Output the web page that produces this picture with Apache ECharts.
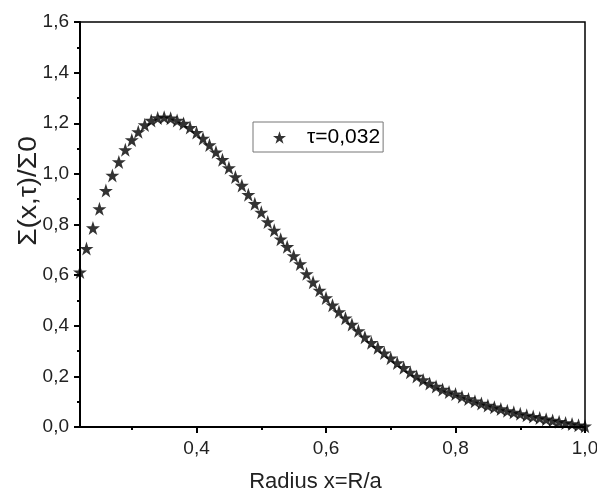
<!DOCTYPE html>
<html>
<head>
<meta charset="utf-8">
<script src="https://cdn.jsdelivr.net/npm/echarts@6/dist/echarts.min.js"></script>
<style>
html,body{margin:0;padding:0;background:#fff;}
#c{width:597px;height:489px;}
</style>
</head>
<body>
<div id="c"></div>
<script>
var radius = [0.22,0.23,0.24,0.25,0.26,0.27,0.28,0.29,0.30,0.31,0.32,0.33,0.34,0.35,0.36,0.37,0.38,0.39,0.40,
  0.41,0.42,0.43,0.44,0.45,0.46,0.47,0.48,0.49,0.50,0.51,0.52,0.53,0.54,0.55,0.56,0.57,0.58,0.59,0.60,
  0.61,0.62,0.63,0.64,0.65,0.66,0.67,0.68,0.69,0.70,0.71,0.72,0.73,0.74,0.75,0.76,0.77,0.78,0.79,0.80,
  0.81,0.82,0.83,0.84,0.85,0.86,0.87,0.88,0.89,0.90,0.91,0.92,0.93,0.94,0.95,0.96,0.97,0.98,0.99,1.00];
var sigma = [0.612,0.705,0.786,0.862,0.934,0.994,1.047,1.095,1.134,1.166,1.193,1.211,1.221,1.224,1.220,1.211,1.199,1.183,1.163,
  1.140,1.114,1.086,1.056,1.024,0.988,0.954,0.918,0.882,0.848,0.810,0.777,0.742,0.712,0.676,0.644,0.605,0.572,0.540,0.510,
  0.481,0.455,0.430,0.405,0.380,0.355,0.333,0.313,0.292,0.272,0.253,0.234,0.216,0.200,0.186,0.172,0.160,0.148,0.138,0.130,
  0.120,0.111,0.102,0.093,0.085,0.078,0.071,0.064,0.058,0.052,0.046,0.041,0.036,0.031,0.026,0.021,0.016,0.012,0.007,0.003];
var seriesName = 'τ=0,032';
var xAxisName = 'Radius x=R/a';
var yAxisName = 'Σ(x,τ)/Σ0';
var xMajorTicks = [0.4, 0.6, 0.8, 1.0];
var xMinorTicks = [0.3, 0.5, 0.7, 0.9];

var star = 'path://M50,0 L61.8,35.3 L98.5,35.3 L68.8,57.1 L79.9,92.7 L50,71 L20.1,92.7 L31.2,57.1 L1.5,35.3 L38.2,35.3 Z';
var font = 'Liberation Sans, Arial, sans-serif';
function fmt(v){ return v.toFixed(1).replace('.', ','); }

var chart = echarts.init(document.getElementById('c'));
chart.setOption({
  animation: false,
  backgroundColor: '#fff',
  grid: {left: 80, right: 12, top: 22, bottom: 62, outerBoundsMode: 'none', containLabel: false,
    show: true, borderColor: '#000', borderWidth: 1.5, backgroundColor: 'transparent'},
  legend: {
    left: 253, top: 122, width: 132,
    data: [{name: seriesName, icon: star}],
    itemWidth: 13, itemHeight: 13,
    padding: [5, 3, 4, 20],
    borderColor: '#777', borderWidth: 1,
    textStyle: {fontFamily: font, fontSize: 21, color: '#000', padding: [0, 0, 0, 16]}
  },
  graphic: [{
    type: 'text',
    x: 29, y: 191,
    rotation: Math.PI / 2,
    scaleX: 1.12,
    style: {text: yAxisName, fontFamily: font, fontSize: 25, fill: '#222', align: 'center', verticalAlign: 'middle'}
  }],
  xAxis: [{
    type: 'value', min: 0.22, max: 1.0,
    name: xAxisName, nameLocation: 'middle', nameGap: 44,
    nameTextStyle: {fontFamily: font, fontSize: 22, color: '#222', padding: [0, 34, 0, 0]},
    axisLine: {show: true, onZero: false, lineStyle: {color: '#000', width: 2}},
    axisTick: {show: true, inside: false, length: 6, customValues: xMajorTicks, lineStyle: {color: '#000', width: 2}},
    axisLabel: {customValues: xMajorTicks, formatter: fmt, fontFamily: font, fontSize: 19, color: '#222', margin: 12},
    splitLine: {show: false}
  }, {
    type: 'value', min: 0.22, max: 1.0, position: 'bottom',
    axisLine: {show: false},
    axisTick: {show: true, length: 3, customValues: xMinorTicks, lineStyle: {color: '#000', width: 2}},
    axisLabel: {show: false},
    splitLine: {show: false}
  }],
  yAxis: {
    type: 'value', min: 0, max: 1.6, interval: 0.2,
    axisLine: {show: true, onZero: false, lineStyle: {color: '#000', width: 2}},
    axisTick: {show: true, length: 6, lineStyle: {color: '#000', width: 2}},
    minorTick: {show: true, splitNumber: 2, length: 3, lineStyle: {color: '#000', width: 2}},
    axisLabel: {formatter: fmt, fontFamily: font, fontSize: 19, color: '#222', margin: 11},
    splitLine: {show: false}
  },
  series: [{
    name: seriesName,
    type: 'scatter',
    symbol: star,
    symbolSize: 14,
    itemStyle: {color: '#000'},
    data: radius.map(function (x, i) { return [x, sigma[i]]; })
  }]
});
</script>
</body>
</html>
